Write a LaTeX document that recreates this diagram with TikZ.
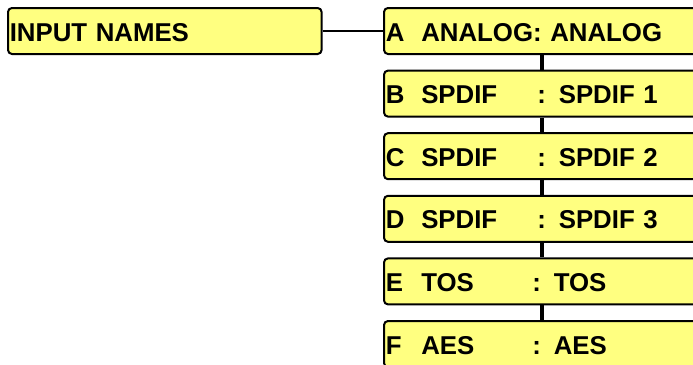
\documentclass[tikz,border=0pt]{standalone}
\usepackage{fontspec}
\setmainfont{Liberation Sans}
\definecolor{boxfill}{RGB}{255,255,128}
% fixed columns: selector letter, source name, then ": label"
\newcommand\srcline[4]{\makebox[35.5pt][l]{#1}\makebox[#2][l]{#3}: #4}
\begin{document}
\begin{tikzpicture}[x=1pt,y=-1pt,
  namebox/.style={draw=black, line width=2pt, fill=boxfill, rounded corners=4pt,
    anchor=north west, minimum height=46pt, inner ysep=0pt, inner xsep=1.8pt,
    text height=20pt, text depth=0pt, align=left,
    font=\fontsize{25.8}{30}\selectfont\bfseries},
  srcbox/.style={namebox, text width=396pt},
  hlink/.style={draw=black, line width=1.5pt},
  vlink/.style={draw=black, line width=4pt}]
\useasboundingbox (0,0) rectangle (693,364);
\clip (0,0) rectangle (693,364);

\node[namebox, text width=310pt] (inp) at (7,7) {INPUT NAMES};

\node[srcbox] (a) at (383,7)     {\makebox[35.5pt][l]{A}ANALOG: ANALOG};
\node[srcbox] (b) at (383,69.6)  {\srcline{B}{116pt}{SPDIF}{SPDIF 1}};
\node[srcbox] (c) at (383,132.2) {\srcline{C}{116pt}{SPDIF}{SPDIF 2}};
\node[srcbox] (d) at (383,194.8) {\srcline{D}{116pt}{SPDIF}{SPDIF 3}};
\node[srcbox] (e) at (383,257.4) {\srcline{E}{111pt}{TOS}{TOS}};
\node[srcbox] (f) at (383,320)   {\srcline{F}{111pt}{AES}{AES}};

\coordinate (vx) at (542,0);

\draw[hlink] (inp.east) -- (a.west);
\draw[vlink] (a.south -| vx) -- (b.north -| vx);
\draw[vlink] (b.south -| vx) -- (c.north -| vx);
\draw[vlink] (c.south -| vx) -- (d.north -| vx);
\draw[vlink] (d.south -| vx) -- (e.north -| vx);
\draw[vlink] (e.south -| vx) -- (f.north -| vx);
\end{tikzpicture}
\end{document}
